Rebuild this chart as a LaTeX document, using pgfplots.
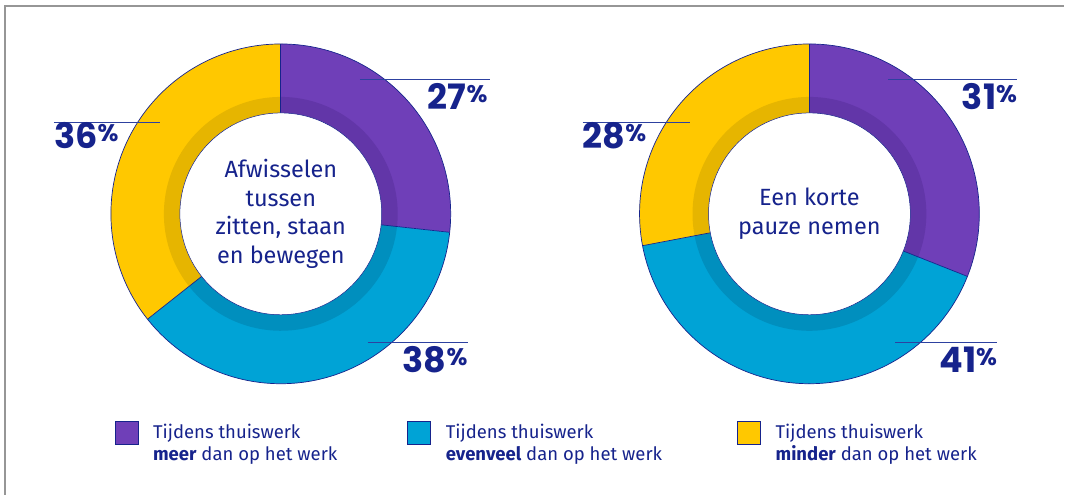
\documentclass[border=0pt]{standalone}
\usepackage{pgfplots}
\pgfplotsset{compat=1.18}
\usepackage{pgfplotstable}
\usepackage{fontspec}
\setmainfont{Fira Sans}
\newfontfamily\numfont{Poppins}
\definecolor{navy}{RGB}{22,35,140}
\definecolor{lnavy}{RGB}{45,65,160}
\definecolor{cpurple}{RGB}{111,63,184}
\definecolor{cpurpleD}{RGB}{98,54,168}
\definecolor{cblue}{RGB}{0,163,214}
\definecolor{cblueD}{RGB}{0,143,190}
\definecolor{cyellow}{RGB}{255,200,0}
\definecolor{cyellowD}{RGB}{230,181,0}
\definecolor{frame}{RGB}{150,150,150}

\pgfplotstableread{
donut cx cy meer evenveel minder
0 281 281 27 38 36
1 810 281 31 41 28
}\donuts

\newcommand\pct[1]{{\numfont\bfseries\fontsize{35}{35}\selectfont #1}{\numfont\bfseries\fontsize{24}{24}\selectfont\raisebox{7.5pt}{\%}}}

% #1 cx, #2 cy, #3 end of meer, #4 end of evenveel
\newcommand\donutdraw[4]{%
  \fill[cpurple] (axis cs:#1,#2) -- ++(90:170pt) arc[start angle=90,end angle=#3,radius=170pt] -- cycle;
  \fill[cblue] (axis cs:#1,#2) -- ++(#3:170pt) arc[start angle=#3,end angle=#4,radius=170pt] -- cycle;
  \fill[cyellow] (axis cs:#1,#2) -- ++(#4:170pt) arc[start angle=#4,end angle=-270,radius=170pt] -- cycle;
  \fill[cpurpleD] (axis cs:#1,#2) -- ++(90:117pt) arc[start angle=90,end angle=#3,radius=117pt] -- cycle;
  \fill[cblueD] (axis cs:#1,#2) -- ++(#3:117pt) arc[start angle=#3,end angle=#4,radius=117pt] -- cycle;
  \fill[cyellowD] (axis cs:#1,#2) -- ++(#4:117pt) arc[start angle=#4,end angle=-270,radius=117pt] -- cycle;
  \draw[navy, line width=0.7pt] (axis cs:#1,#2) -- ++(90:170pt);
  \draw[navy, line width=0.7pt] (axis cs:#1,#2) -- ++(#3:170pt);
  \draw[navy, line width=0.7pt] (axis cs:#1,#2) -- ++(#4:170pt);
  \draw[navy, line width=0.7pt] (axis cs:#1,#2) circle[radius=170pt];
  \filldraw[fill=white, draw=navy, line width=0.5pt] (axis cs:#1,#2) circle[radius=101pt];
}

\begin{document}
\begin{tikzpicture}[x=1pt,y=1pt]
% read values and compute angles
\pgfplotstablegetelem{0}{meer}\of\donuts \let\Lm\pgfplotsretval
\pgfplotstablegetelem{0}{evenveel}\of\donuts \let\Le\pgfplotsretval
\pgfplotstablegetelem{0}{minder}\of\donuts \let\Ln\pgfplotsretval
\pgfmathsetmacro\LS{\Lm+\Le+\Ln}
\pgfmathsetmacro\La{90-\Lm/\LS*360}
\pgfmathsetmacro\Lb{90-(\Lm+\Le)/\LS*360}
\pgfplotstablegetelem{1}{meer}\of\donuts \let\Rm\pgfplotsretval
\pgfplotstablegetelem{1}{evenveel}\of\donuts \let\Re\pgfplotsretval
\pgfplotstablegetelem{1}{minder}\of\donuts \let\Rn\pgfplotsretval
\pgfmathsetmacro\RS{\Rm+\Re+\Rn}
\pgfmathsetmacro\Ra{90-\Rm/\RS*360}
\pgfmathsetmacro\Rb{90-(\Rm+\Re)/\RS*360}
\begin{axis}[at={(0,0)}, anchor=south west, width=1065pt, height=495pt,
  scale only axis, xmin=0, xmax=1065, ymin=0, ymax=495, hide axis, clip=false]
% frame
\draw[frame, line width=1.5pt] (axis cs:5,0) -- (axis cs:5,489) -- (axis cs:1065,489);
% donuts
\donutdraw{281}{281}{\La}{\Lb}
\donutdraw{810}{281}{\Ra}{\Rb}
% centre texts
\node[text=navy, align=center, font=\fontsize{23.5}{29}\selectfont] at (axis cs:281,281)
  {Afwisselen\\tussen\\zitten, staan\\en bewegen};
\node[text=navy, align=center, font=\fontsize{23.5}{29}\selectfont] at (axis cs:810,281)
  {Een korte\\pauze nemen};
% leader lines
\draw[lnavy, line width=0.8pt] (axis cs:360,416) -- (axis cs:490,416);
\draw[lnavy, line width=0.8pt] (axis cs:54,373) -- (axis cs:160,373);
\draw[lnavy, line width=0.8pt] (axis cs:368,152) -- (axis cs:468,152);
\draw[lnavy, line width=0.8pt] (axis cs:889,416) -- (axis cs:1018,416);
\draw[lnavy, line width=0.8pt] (axis cs:583,373) -- (axis cs:690,373);
\draw[lnavy, line width=0.8pt] (axis cs:896,152) -- (axis cs:998,152);
% percent labels
\node[anchor=base east, text=navy, inner sep=0pt] at (axis cs:488,385) {\pct{27}};
\node[anchor=base west, text=navy, inner sep=0pt] at (axis cs:54,346) {\pct{36}};
\node[anchor=base east, text=navy, inner sep=0pt] at (axis cs:468,122) {\pct{38}};
\node[anchor=base east, text=navy, inner sep=0pt] at (axis cs:1018,385) {\pct{31}};
\node[anchor=base west, text=navy, inner sep=0pt] at (axis cs:583,346) {\pct{28}};
\node[anchor=base east, text=navy, inner sep=0pt] at (axis cs:998,122) {\pct{41}};
% legend
\filldraw[fill=cpurple, draw=navy, line width=0.6pt] (axis cs:115,50) rectangle (axis cs:138,73);
\filldraw[fill=cblue, draw=navy, line width=0.6pt] (axis cs:408,50) rectangle (axis cs:431,73);
\filldraw[fill=cyellow, draw=navy, line width=0.6pt] (axis cs:738,50) rectangle (axis cs:761,73);
\node[anchor=base west, text=navy, inner sep=0pt, font=\fontsize{18.5}{22}\selectfont] at (axis cs:153,56) {Tijdens thuiswerk};
\node[anchor=base west, text=navy, inner sep=0pt, font=\fontsize{18.5}{22}\selectfont] at (axis cs:153,34) {\textbf{meer} dan op het werk};
\node[anchor=base west, text=navy, inner sep=0pt, font=\fontsize{18.5}{22}\selectfont] at (axis cs:446,56) {Tijdens thuiswerk};
\node[anchor=base west, text=navy, inner sep=0pt, font=\fontsize{18.5}{22}\selectfont] at (axis cs:446,34) {\textbf{evenveel} dan op het werk};
\node[anchor=base west, text=navy, inner sep=0pt, font=\fontsize{18.5}{22}\selectfont] at (axis cs:776,56) {Tijdens thuiswerk};
\node[anchor=base west, text=navy, inner sep=0pt, font=\fontsize{18.5}{22}\selectfont] at (axis cs:776,34) {\textbf{minder} dan op het werk};
\end{axis}
\useasboundingbox (0,0) rectangle (1065,495);
\end{tikzpicture}
\end{document}
